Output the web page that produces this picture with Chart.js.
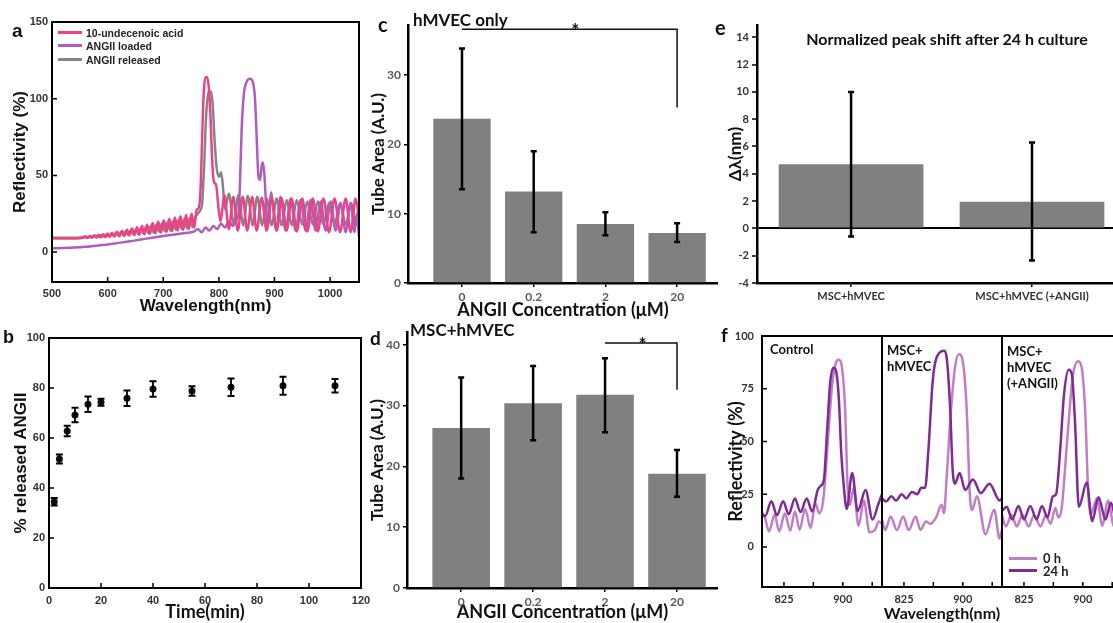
<!DOCTYPE html>
<html><head><meta charset="utf-8">
<script src="https://cdn.jsdelivr.net/npm/chart.js@4.4.1/dist/chart.umd.min.js"></script>
<style>
html,body{margin:0;padding:0;background:#fff;}
body{width:1113px;height:623px;position:relative;overflow:hidden;}
canvas{position:absolute;}
.t{position:absolute;white-space:nowrap;font-weight:bold;line-height:1;color:#111;font-family:'Lato',sans-serif;}
.ar{font-family:'Liberation Sans',Arial,sans-serif;}
.lg{position:absolute;display:flex;align-items:center;height:14px;font-weight:bold;white-space:nowrap;color:#222;}
.lg span.s{display:inline-block;height:3px;}
</style></head><body>
<script>
// ---------- DATA ----------
// panel a: reflectivity spectra [wavelength nm, reflectivity %]
const aXTicks = [500,600,700,800,900,1000];
const aYTicks = [0,50,100,150];
const undecenoicAcid = [[500,9],[520,8.8],[540,8.9],[556,9.3],
[560,10.3],[564,9.2],[568,10.6],[572,9.3],[576,10.9],[580,9.4],[584,11.3],[588,9.5],[592,11.7],[596,9.7],[600,12.1],[604,9.9],[608,12.6],[612,10.1],[617,13.2],[621,10.3],[626,13.9],[630,10.5],[635,14.6],[639,10.8],[644,15.4],[648,11],[653,16.2],[657,11.3],[662,17],[666,11.6],[671,17.9],[676,11.9],[681,18.9],[686,12.3],[691,19.9],[696,12.7],[701,20.8],[706,13.1],[711,21.7],[716,13.6],[721,22.6],[726,14],[731,23.4],[736,14.5],[741,24.2],[746,15],[751,25],[756,16],[760,27.5],[764,29],[767,40],[770,75],[773,105],[776,114],[779,114],[782,107],[785,88],[788,60],[791,46],[795,44],[799,30],[803,20],
[810,37],[818,15],[826,36],[834,14],[843,36],[851,14],[860,36],[868,14],[877,35.5],[886,14],[895,35],[904,14],[913,35],[922,14],[931,35],[940,13.5],[950,35],[959,13.5],[969,35],[978,13.5],[988,35],[998,13],[1008,35],[1018,13],[1028,35],[1037,13],[1046,35],[1052,22]];
const angiiLoaded = [[500,2.5],[520,2.7],[540,3],[560,3.5],[580,4.2],[600,5],[620,6],[640,7],[660,8.2],[680,9.4],[700,10.5],[720,11.5],[740,12.5],[755,13.3],
[762,15],[769,13],[776,16],[783,14],[790,17],[797,15],[804,18.5],[811,16],[818,20],[825,17],[831,21],[835,24],[838,45],[841,80],[845,103],[850,111],[856,113],[861,111],[865,100],[868,75],[871,50],[874,47],[877,56],[879,58.5],[882,50],[885,30],[888,17],[891,28],[894,39],[898,28],[903,14],
[911,36],[920,14],[929,35],[938,14],[947,34],[956,14],[965,34],[974,14],[983,33],[992,14],[1001,33],[1010,14],[1019,32],[1028,13],[1037,32],[1044,13],[1048,25],[1052,10]];
const angiiReleased = [[500,9.5],[520,9.3],[545,9.4],[570,9.8],
[580,10.6],[584,9.9],[589,11.1],[593,10.1],[598,11.6],[602,10.3],[607,12.1],[611,10.5],[615,12.6],[620,10.7],[624,13.2],[628,11],[633,13.8],[637,11.2],[642,14.4],[646,11.5],[651,15],[655,11.8],[660,15.7],[664,12.1],[669,16.4],[673,12.4],[678,17.2],[683,12.8],[688,18],[693,13.2],[698,18.8],[703,13.6],[708,19.6],[713,14],[718,20.4],[723,14.5],[728,21.2],[733,15],[738,21.8],[743,15.6],[748,22.4],[753,16.2],[758,23],[762,25],[766,27],[770,32],[774,60],[777,88],[780,101],[783,105],[786,104],[789,96],[792,75],[796,55],[800,49],[804,52],[807,44],[811,28],
[818,38],[827,18],[835,37],[844,17.5],[852,36.5],[861,17.5],[869,36],[878,17.5],[886,35],[895,17.5],[904,35],[913,17.5],[922,34],[931,17.5],[940,34],[950,18],[959,33],[969,18],[978,33],[988,18],[998,32],[1008,18],[1018,32],[1028,18],[1038,32],[1046,18],[1052,30]];

// panel b: release kinetics
const bXTicks = [0,20,40,60,80,100,120];
const bYTicks = [0,20,40,60,80,100];
const bTime = [2,4,7,10,15,20,30,40,55,70,90,110];
const bReleased = [34.5,51.6,62.8,69.2,73.5,74.3,75.9,79.6,78.8,80.3,80.9,80.9];
const bError = [1.5,1.8,2.1,2.9,3.1,1.4,3.1,3.1,1.9,3.5,3.6,2.7];

// panels c, d: tube area
const concCategories = ['0','0.2','2','20'];
const cYTicks = [0,10,20,30];
const cTubeArea = [23.7,13.2,8.5,7.2];
const cErrLow = [13.5,7.3,6.9,5.9];
const cErrHigh = [33.8,19.0,10.2,8.6];
const dYTicks = [0,10,20,30,40];
const dTubeArea = [26.3,30.4,31.8,18.8];
const dErrLow = [18.0,24.3,25.6,15.0];
const dErrHigh = [34.6,36.5,37.8,22.7];

// panel e: peak shift
const eCategories = ['MSC+hMVEC','MSC+hMVEC (+ANGII)'];
const eYTicks = [-4,-2,0,2,4,6,8,10,12,14];
const ePeakShift = [4.7,1.95];
const eErrLow = [-0.6,-2.35];
const eErrHigh = [10.0,6.3];

// panel f: spectra 0 h / 24 h
const fXTicks = [825,862.5,900,937.5];
const fXTickLabels = ['825','','900',''];
const fYTicks = [0,25,50,75,100];
const control0h = [[797,15],[800,14.5],[806,7.3],[813,15.3],[819,7.3],[826,15.8],[833,7.8],[839,16.8],[845,8.2],[852,18],[859,9],[865,20.8],[870,16],[875,22],[880,45],[886,75],[891,87],[895,88.7],[899,85],[903,65],[906,30],[909,20],[914,28],[920,10],[927,22],[934,7],[941,8],[946,12],[950,11]];
const control24h = [[797,16],[801,14.6],[809,21.6],[816,15],[824,21.6],[831,15.5],[839,23],[846,16.5],[854,23],[861,16.8],[868,27],[872,29],[876,32],[880,55],[884,78],[888,85],[891,84],[895,70],[898,45],[901,30],[905,18],[912,35],[919,17],[929,27],[938,13],[945,20],[950,25]];
const mscHmvec0h = [[797,13],[801,8],[808,14.4],[816,8],[824,14.4],[831,8],[840,14.4],[846,8],[853,12],[859,11],[866,14],[873,20],[876,16],[879,30],[884,60],[890,85],[895,91.4],[900,88],[905,65],[909,25],[912,17.6],[918,24],[929,6],[940,17.6],[947,4],[950,8]];
const mscHmvec24h = [[797,23],[802,21.5],[809,24],[815,22],[822,25],[828,23],[835,26],[842,25],[847,28],[852,28],[856,45],[862,80],[870,92],[876,93],[880,88],[884,65],[887,37],[890,30],[896,35],[903,27],[913,32],[923,25.5],[934,30],[947,22],[950,23]];
const angii0h = [[797,15],[802,9.7],[809,15.3],[816,9.7],[823,15.3],[831,9.7],[838,15.3],[846,9.7],[853,15],[859,11],[865,18.5],[869,14],[873,18],[880,50],[887,80],[894,88],[898,86],[903,65],[907,25],[910,15.5],[918,23],[925,10],[932,22],[940,9.7],[947,20],[950,18]];
const angii24h = [[797,17],[803,19],[810,13],[818,19.4],[825,13],[833,19.4],[841,13],[848,19.4],[855,14],[862,24],[866,25],[871,45],[876,72],[882,84],[886,82],[890,60],[895,19],[905,30.5],[912,12.3],[920,23.5],[929,13],[936,21],[943,12],[950,18]];

// ---------- STYLE ----------
const PINK='#ee4284', PURPLE_A='#ad5ebf', GRAY_A='#858585', LIGHT_F='#c27dc8', DARK_F='#7e2b95', BAR='#808080';
const arialTick = {family:'Liberation Sans', size:11, weight:'bold'};
const latoTick = {family:'Lato', size:12, weight:'bold'};

Chart.defaults.animation = false;
Chart.defaults.responsive = false;
Chart.defaults.devicePixelRatio = 1;
Chart.defaults.plugins.legend.display = false;
Chart.defaults.plugins.tooltip.enabled = false;
Chart.defaults.font.family = 'Lato';

const framePlugin = {
  id: 'frame',
  afterDraw(chart, args, o) {
    if (!o || !o.on) return;
    const ctx = chart.ctx, a = chart.chartArea;
    ctx.save();
    ctx.strokeStyle = '#000';
    if (o.inTicks) {
      ctx.lineWidth = 1.5;
      ctx.beginPath();
      const xs = chart.scales.x, ys = chart.scales.y;
      xs.ticks.forEach(t => { const p = xs.getPixelForValue(t.value); ctx.moveTo(p, a.bottom); ctx.lineTo(p, a.bottom - 5); });
      if (ys.options.display !== false) ys.ticks.forEach(t => { const p = ys.getPixelForValue(t.value); ctx.moveTo(a.left, p); ctx.lineTo(a.left + 5, p); });
      ctx.stroke();
    }
    ctx.lineWidth = o.lw || 2;
    ctx.strokeRect(a.left, a.top, a.right - a.left, a.bottom - a.top);
    ctx.restore();
  }
};
const errPlugin = {
  id: 'err',
  afterDatasetsDraw(chart, args, o) {
    if (!o || !o.lo) return;
    const ctx = chart.ctx, ys = chart.scales.y, meta = chart.getDatasetMeta(0);
    ctx.save();
    ctx.strokeStyle = '#000'; ctx.lineWidth = o.lw || 2.5;
    ctx.beginPath();
    meta.data.forEach((el, i) => {
      const x = el.x, y1 = ys.getPixelForValue(o.lo[i]), y2 = ys.getPixelForValue(o.hi[i]);
      ctx.moveTo(x, y1); ctx.lineTo(x, y2);
      ctx.moveTo(x - o.cap, y1); ctx.lineTo(x + o.cap, y1);
      ctx.moveTo(x - o.cap, y2); ctx.lineTo(x + o.cap, y2);
    });
    ctx.stroke();
    ctx.restore();
  }
};
const bracketPlugin = {
  id: 'bracket',
  afterDatasetsDraw(chart, args, o) {
    if (!o || o.from === undefined) return;
    const ctx = chart.ctx, xs = chart.scales.x, ys = chart.scales.y;
    const x1 = xs.getPixelForValue(o.from), x2 = xs.getPixelForValue(o.to);
    const y = ys.getPixelForValue(o.y), yd = ys.getPixelForValue(o.drop);
    ctx.save();
    ctx.strokeStyle = '#111'; ctx.lineWidth = 1.5;
    ctx.beginPath(); ctx.moveTo(x1, y); ctx.lineTo(x2, y); ctx.lineTo(x2, yd); ctx.stroke();
    ctx.fillStyle = '#111'; ctx.font = 'bold 19px Lato'; ctx.textAlign = 'center'; ctx.textBaseline = 'alphabetic';
    ctx.fillText('*', xs.getPixelForValue(o.star), y + 8);
    ctx.restore();
  }
};
Chart.register(framePlugin, errPlugin, bracketPlugin);

function fixScale(size, horizontal) {
  return s => {
    if (horizontal) s.height = size; else s.width = size;
    s.paddingLeft = 0; s.paddingRight = 0; s.paddingTop = 0; s.paddingBottom = 0;
  };
}
function setTicks(arr) { return s => { s.ticks = arr.map(v => ({value: v})); }; }
function place(g, cfg) {
  const c = document.createElement('canvas');
  c.width = g.w; c.height = g.h;
  c.style.left = g.x + 'px'; c.style.top = g.y + 'px';
  document.body.appendChild(c);
  cfg.options.layout = {padding: {left: 0, top: g.pt - g.y, right: g.x + g.w - g.pr, bottom: 0}};
  cfg.options.scales.x.afterFit = fixScale(g.y + g.h - g.pb, true);
  cfg.options.scales.y.afterFit = fixScale(g.pl - g.x, false);
  return new Chart(c, cfg);
}
const xy = arr => arr.map(p => ({x: p[0], y: p[1]}));
const specLine = (label, arr, color) => ({label, data: xy(arr), borderColor: color, borderWidth: 2.5, pointRadius: 0, cubicInterpolationMode: 'monotone'});
const noGrid = {display: false, drawTicks: false};
const titleFont = (size, fam) => ({family: fam || 'Lato', size, weight: 'bold'});
const plain = v => String(v);

// ---------- PANEL a ----------
place({x:0, y:0, w:370, h:317, pl:52, pt:22, pr:359, pb:282}, {
  type: 'line',
  data: {datasets: [
    specLine('10-undecenoic acid', undecenoicAcid, PINK),
    specLine('ANGII loaded', angiiLoaded, PURPLE_A),
    specLine('ANGII released', angiiReleased, GRAY_A)
  ]},
  options: {
    plugins: {frame: {on: true, inTicks: true, lw: 2}},
    scales: {
      x: {type: 'linear', min: 500, max: 1052, afterBuildTicks: setTicks(aXTicks), grid: noGrid, border: {display: false},
          ticks: {autoSkip: false, maxRotation: 0, padding: 5, font: arialTick, color: '#333', callback: plain},
          title: {display: true, text: 'Wavelength(nm)', font: titleFont(17, 'Liberation Sans'), color: '#111', padding: 0}},
      y: {min: -19.5, max: 150, afterBuildTicks: setTicks(aYTicks), grid: noGrid, border: {display: false},
          ticks: {padding: 4, font: arialTick, color: '#333', callback: plain},
          title: {display: true, text: 'Reflectivity (%)', font: titleFont(17, 'Liberation Sans'), color: '#111', padding: {top: 10, bottom: 0}}}
    }
  }
});

// ---------- PANEL b ----------
place({x:0, y:320, w:370, h:303, pl:49, pt:338, pr:361, pb:588}, {
  type: 'scatter',
  data: {datasets: [{data: bTime.map((t, i) => ({x: t, y: bReleased[i]})), pointRadius: 3.5, pointBackgroundColor: '#111', pointBorderWidth: 0}]},
  options: {
    plugins: {frame: {on: true, inTicks: true, lw: 2},
              err: {lo: bReleased.map((v, i) => v - bError[i]), hi: bReleased.map((v, i) => v + bError[i]), cap: 3.5, lw: 1.8}},
    scales: {
      x: {type: 'linear', min: 0, max: 120, afterBuildTicks: setTicks(bXTicks), grid: noGrid, border: {display: false},
          ticks: {autoSkip: false, maxRotation: 0, padding: 6, font: arialTick, color: '#333', callback: plain},
          title: {display: true, text: 'Time(min)', font: titleFont(18), color: '#111', padding: 0}},
      y: {min: 0, max: 100, afterBuildTicks: setTicks(bYTicks), grid: noGrid, border: {display: false},
          ticks: {padding: 4, font: arialTick, color: '#333', callback: plain},
          title: {display: true, text: '% released ANGII', font: titleFont(17, 'Liberation Sans'), color: '#111', padding: {top: 11, bottom: 0}}}
    }
  }
});

// ---------- PANELS c, d ----------
function barPanel(g, values, lo, hi, yMax, yTicks, bracket) {
  return place(g, {
    type: 'bar',
    data: {datasets: [{data: concCategories.map((c, i) => ({x: i, y: values[i]})), backgroundColor: BAR, borderWidth: 0, barPercentage: 0.8, categoryPercentage: 1}]},
    options: {
      plugins: {err: {lo, hi, cap: 3, lw: 2.5}, bracket},
      scales: {
        x: {type: 'linear', offset: false, min: -0.753, max: 3.57, afterBuildTicks: setTicks([0,1,2,3]),
            grid: {display: true, offset: false, drawOnChartArea: false, drawTicks: true, tickLength: 4, color: '#000', lineWidth: 1.5},
            border: {display: true, color: '#000', width: 2.5},
            ticks: {autoSkip: false, maxRotation: 0, padding: 3, font: latoTick, color: '#595959', callback: v => concCategories[v]},
            title: {display: true, text: 'ANGII Concentration (μM)', font: titleFont(18), color: '#111', padding: 0}},
        y: {min: 0, max: yMax, afterBuildTicks: setTicks(yTicks),
            grid: {display: true, drawOnChartArea: false, drawTicks: true, tickLength: 4, color: '#000', lineWidth: 1.5},
            border: {display: true, color: '#000', width: 2.5},
            ticks: {padding: 3, font: latoTick, color: '#595959', callback: plain},
            title: {display: true, text: 'Tube Area (A.U.)', font: titleFont(17), color: '#111', padding: 0}}
      }
    }
  });
}
barPanel({x:368, y:0, w:350, h:321, pl:408, pt:25, pr:718, pb:283}, cTubeArea, cErrLow, cErrHigh, 37.2, cYTicks,
  {from: 0, to: 3, y: 36.6, drop: 25.3, star: 1.58});
barPanel({x:367, y:320, w:351, h:303, pl:407, pt:332, pr:718, pb:588}, dTubeArea, dErrLow, dErrHigh, 42.1, dYTicks,
  {from: 2, to: 3, y: 40.3, drop: 32.6, star: 2.52});

// ---------- PANEL e ----------
place({x:725, y:0, w:400, h:310, pl:757, pt:25, pr:1125, pb:283}, {
  type: 'bar',
  data: {datasets: [{data: eCategories.map((c, i) => ({x: i, y: ePeakShift[i]})), backgroundColor: BAR, borderWidth: 0, barPercentage: 0.8, categoryPercentage: 1}]},
  options: {
    plugins: {err: {lo: eErrLow, hi: eErrHigh, cap: 3, lw: 2.5}},
    scales: {
      x: {type: 'linear', offset: false, min: -0.52, max: 1.514, afterBuildTicks: setTicks([0,1]),
          grid: {display: true, offset: false, drawOnChartArea: false, drawTicks: true, tickLength: 4, color: '#000', lineWidth: 1.5},
          border: {display: true, color: '#000', width: 2.5},
          ticks: {autoSkip: false, maxRotation: 0, padding: 3, font: {family: 'Lato', size: 11, weight: 'bold'}, color: '#333', callback: v => eCategories[v]}},
      y: {min: -4, max: 14.9, afterBuildTicks: setTicks(eYTicks),
          grid: {display: true, drawOnChartArea: true, drawTicks: true, tickLength: 5, lineWidth: 2,
                 color: c => (c.tick && c.tick.value === 0) ? '#000' : 'rgba(0,0,0,0)', tickColor: '#000', tickWidth: 1.5},
          border: {display: true, color: '#000', width: 2.5},
          ticks: {padding: 3, font: {family: 'Lato', size: 11, weight: 'bold'}, color: '#333', callback: plain},
          title: {display: true, text: 'Δλ(nm)', font: titleFont(17), color: '#111', padding: 0}}
    }
  }
});

// ---------- PANEL f ----------
function fPanel(g, light, dark, showY, xTitle) {
  return place(g, {
    type: 'line',
    data: {datasets: [specLine('24 h', dark, DARK_F), specLine('0 h', light, LIGHT_F)]},
    options: {
      plugins: {frame: {on: true, inTicks: true, lw: 2}},
      scales: {
        x: {type: 'linear', min: 797, max: 950, afterBuildTicks: setTicks(fXTicks), grid: noGrid, border: {display: false},
            ticks: {autoSkip: false, maxRotation: 0, padding: 6, font: {family: 'Lato', size: 11, weight: 'bold'}, color: '#333',
                    callback: v => fXTickLabels[fXTicks.indexOf(v)]},
            title: {display: !!xTitle, text: xTitle || '', font: titleFont(16), color: '#111', padding: 0}},
        y: {display: showY, min: -19, max: 100, afterBuildTicks: setTicks(fYTicks), grid: noGrid, border: {display: false},
            ticks: {padding: 8, font: {family: 'Lato', size: 11, weight: 'bold'}, color: '#333', callback: plain},
            title: {display: showY, text: 'Reflectivity (%)', font: titleFont(18), color: '#111', padding: 0}}
      }
    }
  });
}
fPanel({x:725, y:320, w:157, h:303, pl:762, pt:336, pr:882, pb:587}, control0h, control24h, true, null);
fPanel({x:882, y:320, w:120, h:303, pl:882, pt:336, pr:1002, pb:587}, mscHmvec0h, mscHmvec24h, false, 'Wavelength(nm)');
fPanel({x:1002, y:320, w:125, h:303, pl:1002, pt:336, pr:1122, pb:587}, angii0h, angii24h, false, null);
</script>

<!-- panel letters & annotations -->
<div class="t ar" style="left:12px;top:21px;font-size:19px;">a</div>
<div class="t ar" style="left:3px;top:328px;font-size:18px;">b</div>
<div class="t" style="left:378px;top:14px;font-size:20px;">c</div>
<div class="t" style="left:370px;top:328px;font-size:19px;">d</div>
<div class="t" style="left:715px;top:17px;font-size:20px;">e</div>
<div class="t" style="left:721px;top:325px;font-size:19px;">f</div>

<div class="t" style="left:413px;top:11px;font-size:17px;">hMVEC only</div>
<div class="t" style="left:410px;top:321px;font-size:17px;">MSC+hMVEC</div>
<div class="t" style="left:947px;top:31px;font-size:16px;transform:translateX(-50%);">Normalized peak shift after 24 h culture</div>

<div class="t" style="left:770px;top:343px;font-size:13px;">Control</div>
<div class="t" style="left:887px;top:343px;font-size:13px;line-height:15.5px;">MSC+<br>hMVEC</div>
<div class="t" style="left:1007px;top:343px;font-size:13px;line-height:16px;">MSC+<br>hMVEC<br>(+ANGII)</div>

<div class="lg ar" style="left:58px;top:25.5px;font-size:10.5px;"><span class="s" style="width:24px;background:#ee4284"></span><span style="margin-left:4px">10-undecenoic acid</span></div>
<div class="lg ar" style="left:58px;top:38.5px;font-size:10.5px;"><span class="s" style="width:24px;background:#ad5ebf"></span><span style="margin-left:4px">ANGII loaded</span></div>
<div class="lg ar" style="left:58px;top:52.5px;font-size:10.5px;"><span class="s" style="width:24px;background:#858585"></span><span style="margin-left:4px">ANGII released</span></div>

<div class="lg" style="left:1009px;top:551px;font-size:13px;font-family:Lato;"><span class="s" style="width:28px;background:#c27dc8"></span><span style="margin-left:6px">0 h</span></div>
<div class="lg" style="left:1009px;top:563.5px;font-size:13px;font-family:Lato;"><span class="s" style="width:28px;background:#7e2b95"></span><span style="margin-left:6px">24 h</span></div>
</body></html>
